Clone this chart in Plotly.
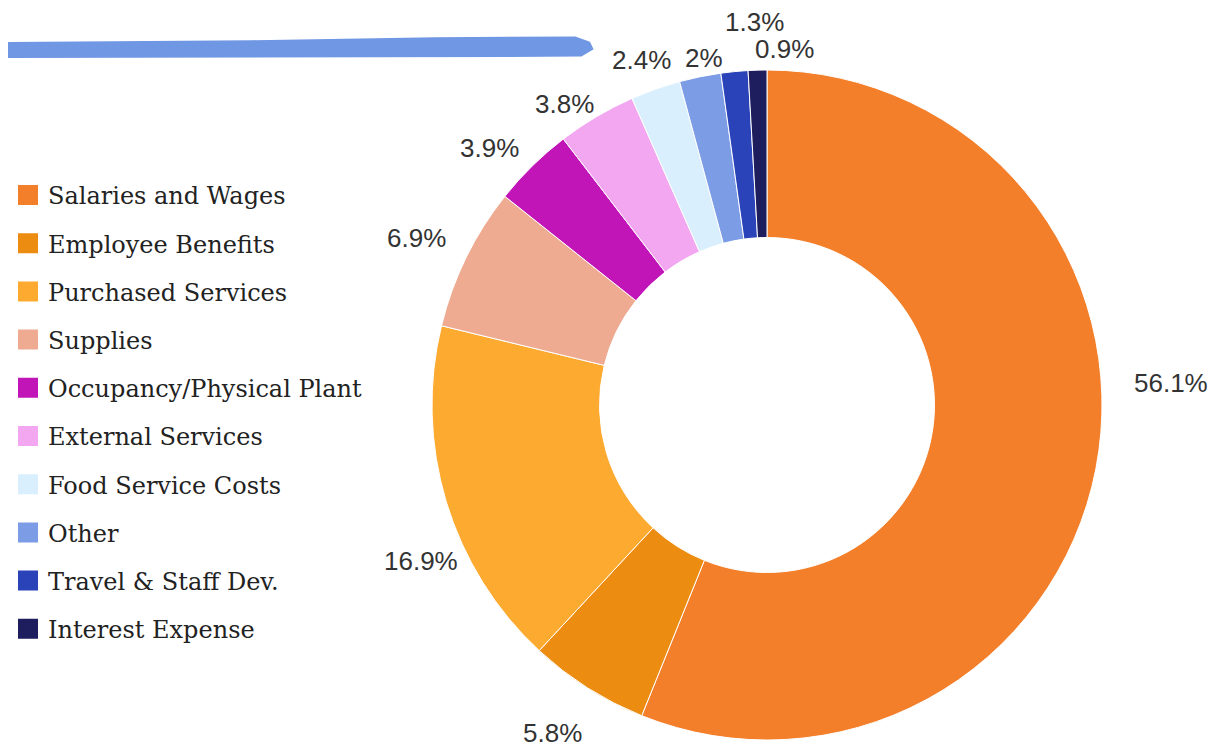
import math
import plotly.graph_objects as go

categories = ["Salaries and Wages", "Employee Benefits", "Purchased Services", "Supplies",
              "Occupancy/Physical Plant", "External Services", "Food Service Costs", "Other",
              "Travel & Staff Dev.", "Interest Expense"]
shares = [56.1, 5.8, 16.9, 6.9, 3.9, 3.8, 2.4, 2, 1.3, 0.9]
colors = ["#F37F2B", "#EC8C11", "#FDAA30", "#EEAB91", "#C115B8",
          "#F2A7F0", "#D9EFFD", "#7C9DE6", "#2A43B8", "#1E1D5E"]

W, H = 1220, 748
# pie placement (figure pixels)
CX, CY, R = 759, 397, 335
LABEL_R = 360
# per-label pixel nudges (collision avoidance / styling)
label_dx = [51, -22, -1, -27, -25, -19, -6, 9, 23, 28]
label_dy = [-91, 24, 52, -9, 0, 9, -6, 6, -25, 4]

fig = go.Figure()
fig.add_trace(go.Pie(
    labels=categories, values=shares, sort=False, direction="clockwise", rotation=0,
    hole=0.5, marker=dict(colors=colors, line=dict(color="white", width=1)),
    textinfo="none",
    domain=dict(x=[(CX - R) / W, (CX + R) / W], y=[(H - CY - R) / H, (H - CY + R) / H]),
    showlegend=False,
))

# percentage labels placed at each slice's mid angle
annotations = []
total = sum(shares)
cum = 0.0
for i, v in enumerate(shares):
    mid = (cum + v / 2) / total
    cum += v
    th = 2 * math.pi * mid
    px = CX + LABEL_R * math.sin(th)
    py = CY - LABEL_R * math.cos(th)
    annotations.append(dict(
        x=px / W, y=1 - py / H, xref="paper", yref="paper",
        text=f"{v:g}%", showarrow=False, xanchor="center", yanchor="middle",
        xshift=label_dx[i], yshift=-label_dy[i],
        font=dict(family="Liberation Sans, Arial, sans-serif", size=26, color="#333333"),
    ))

# legend entries, one per category
for name, col in zip(categories, colors):
    fig.add_trace(go.Scatter(
        x=[None], y=[None], mode="markers", name=name, legendgroup=name,
        marker=dict(symbol="square", size=16, color=col, line=dict(color=col, width=4)),
    ))

fig.update_layout(
    width=W, height=H, margin=dict(l=0, r=0, t=0, b=0, autoexpand=False),
    paper_bgcolor="white", plot_bgcolor="white",
    xaxis=dict(visible=False), yaxis=dict(visible=False),
    legend=dict(x=0, xanchor="left", y=0.460, yanchor="middle", tracegroupgap=14,
                font=dict(family="DejaVu Serif, serif", size=24, color="#222222"),
                itemclick=False, itemdoubleclick=False),
    annotations=annotations,
    shapes=[dict(type="path", xref="paper", yref="paper",
                 path="M 0 0.9545 L 0.2 0.957 L 0.35 0.961 L 0.465 0.962 L 0.477 0.955 "
                      "L 0.48 0.945 L 0.47 0.935 L 0.3 0.934 L 0 0.933 Z",
                 fillcolor="#7097E3", line=dict(width=0), layer="above")],
)

fig.write_html("out.html")
